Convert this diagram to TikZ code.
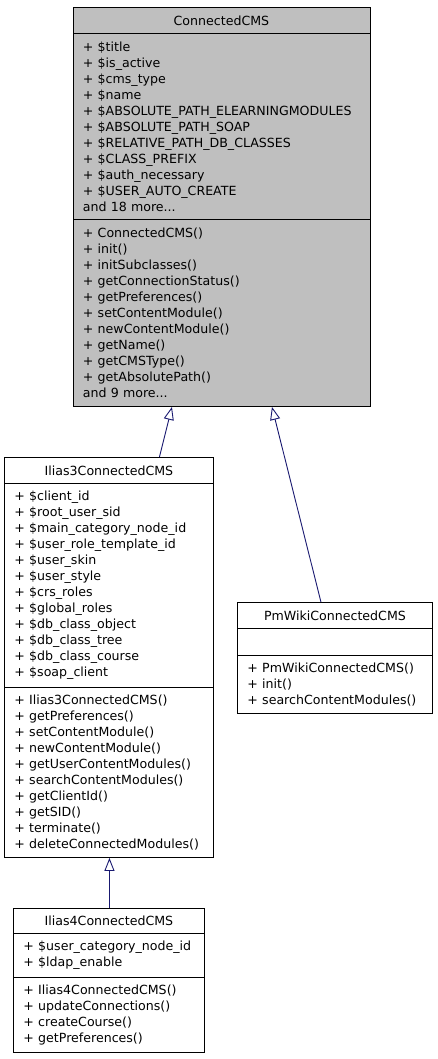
\documentclass[tikz,border=0pt]{standalone}
\usepackage{fontspec}
\setmainfont{DejaVu Sans}
\usetikzlibrary{arrows.meta}
\definecolor{edgeblue}{HTML}{191970}
\definecolor{basegray}{HTML}{BFBFBF}
\tikzset{
  classpart/.style={draw=black, line width=0.9pt, inner xsep=10pt, inner ysep=0pt, anchor=north west, font=\fontsize{12.6}{16}\selectfont},
  titlepart/.style={classpart, align=center},
  memberpart/.style={classpart, align=left},
  inherit/.style={draw=edgeblue, line width=0.9pt, -{Triangle[open, length=13pt, width=10pt]}},
}
\begin{document}
\begin{tikzpicture}[x=1pt,y=-1pt]
\useasboundingbox (0,0) rectangle (437,1059);
% base class
\node[titlepart, fill=basegray, minimum width=297pt, minimum height=26pt] (cms) at (72.5,7) {ConnectedCMS};
\node[memberpart, fill=basegray, text width=277pt, minimum height=186pt] (cmsattr) at (72.5,33) {+ \$title\\+ \$is\_active\\+ \$cms\_type\\+ \$name\\+ \$ABSOLUTE\_PATH\_ELEARNINGMODULES\\+ \$ABSOLUTE\_PATH\_SOAP\\+ \$RELATIVE\_PATH\_DB\_CLASSES\\+ \$CLASS\_PREFIX\\+ \$auth\_necessary\\+ \$USER\_AUTO\_CREATE\\and 18 more...};
\node[memberpart, fill=basegray, text width=277pt, minimum height=187pt] (cmsops) at (72.5,219) {+ ConnectedCMS()\\+ init()\\+ initSubclasses()\\+ getConnectionStatus()\\+ getPreferences()\\+ setContentModule()\\+ newContentModule()\\+ getName()\\+ getCMSType()\\+ getAbsolutePath()\\and 9 more...};
% ilias 3
\node[titlepart, minimum width=209pt, minimum height=26pt] (ilias3) at (4,457) {Ilias3ConnectedCMS};
\node[memberpart, text width=189pt, minimum height=204pt] (ilias3attr) at (4,483) {+ \$client\_id\\+ \$root\_user\_sid\\+ \$main\_category\_node\_id\\+ \$user\_role\_template\_id\\+ \$user\_skin\\+ \$user\_style\\+ \$crs\_roles\\+ \$global\_roles\\+ \$db\_class\_object\\+ \$db\_class\_tree\\+ \$db\_class\_course\\+ \$soap\_client};
\node[memberpart, text width=189pt, minimum height=170pt] (ilias3ops) at (4,687) {+ Ilias3ConnectedCMS()\\+ getPreferences()\\+ setContentModule()\\+ newContentModule()\\+ getUserContentModules()\\+ searchContentModules()\\+ getClientId()\\+ getSID()\\+ terminate()\\+ deleteConnectedModules()};
% pmwiki
\node[titlepart, minimum width=195pt, minimum height=26pt] (pmwiki) at (237,602) {PmWikiConnectedCMS};
\node[memberpart, text width=175pt, minimum height=27pt] (pmwikiattr) at (237,628) {};
\node[memberpart, text width=175pt, minimum height=58pt] (pmwikiops) at (237,655) {+ PmWikiConnectedCMS()\\+ init()\\+ searchContentModules()};
% ilias 4
\node[titlepart, minimum width=191pt, minimum height=25pt] (ilias4) at (13,908) {Ilias4ConnectedCMS};
\node[memberpart, text width=171pt, minimum height=44pt] (ilias4attr) at (13,933) {+ \$user\_category\_node\_id\\+ \$ldap\_enable};
\node[memberpart, text width=171pt, minimum height=75pt] (ilias4ops) at (13,977) {+ Ilias4ConnectedCMS()\\+ updateConnections()\\+ createCourse()\\+ getPreferences()};
% inheritance
\draw[inherit] ([xshift=50.5pt]ilias3.north) -- ([xshift=-49.5pt]cmsops.south);
\draw[inherit] ([xshift=-14pt]pmwiki.north) -- ([xshift=50.5pt]cmsops.south);
\draw[inherit] ([xshift=0.5pt]ilias4.north) -- ([xshift=0.5pt]ilias3ops.south);
\end{tikzpicture}
\end{document}
